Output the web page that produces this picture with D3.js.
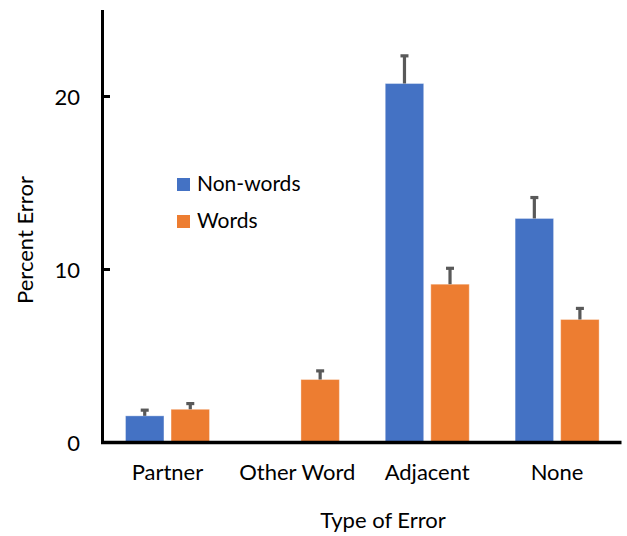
<!DOCTYPE html>
<html>
<head>
<meta charset="utf-8">
<script src="https://cdn.jsdelivr.net/npm/d3@7"></script>
<style>
  html, body { margin: 0; padding: 0; background: #fff; }
  svg { display: block; font-family: Lato, "Open Sans", sans-serif; }
</style>
</head>
<body>
<svg id="chart" width="627" height="536"></svg>
<script>
// Error types along the x axis
const categories = ["Partner", "Other Word", "Adjacent", "None"];
const seriesNames = ["Non-words", "Words"];

// Mean percent error per type (null = no bar)
const nonWordValues = [1.54, null, 20.75, 12.95];
const wordValues = [1.92, 3.64, 9.15, 7.11];

// Upper error bar lengths
const nonWordErrors = [0.33, null, 1.6, 1.21];
const wordErrors = [0.33, 0.5, 0.92, 0.64];

const yTicks = [0, 10, 20];
const colors = ["#4472C4", "#ED7D31"];
const fontSize = 22;

const svg = d3.select("#chart");

const y = d3.scaleLinear().domain([0, 25]).range([442.5, 10]);
const x = d3.scaleBand().domain(categories).range([102.5, 622]).paddingInner(0).paddingOuter(0);
const xSub = d3.scaleBand().domain(seriesNames).range([23, 107]).paddingInner(0.156);

const rows = [];
categories.forEach((c, i) => {
  rows.push({ cat: c, s: seriesNames[0], v: nonWordValues[i], e: nonWordErrors[i] });
  rows.push({ cat: c, s: seriesNames[1], v: wordValues[i], e: wordErrors[i] });
});
const bars = rows.filter(d => d.v != null);

// Bars
svg.append("g").selectAll("rect").data(bars).join("rect")
  .attr("x", d => x(d.cat) + xSub(d.s))
  .attr("y", d => y(d.v))
  .attr("width", xSub.bandwidth())
  .attr("height", d => y(0) - y(d.v))
  .attr("fill", d => colors[seriesNames.indexOf(d.s)])
  .attr("stroke", "rgba(255,255,255,0.35)")
  .attr("stroke-width", 1);

// Error bars (upper only)
const eb = svg.append("g").attr("stroke", "#595959").attr("stroke-width", 3.2).attr("fill", "none");
bars.forEach(d => {
  const cx = x(d.cat) + xSub(d.s) + xSub.bandwidth() / 2;
  eb.append("line").attr("x1", cx).attr("x2", cx).attr("y1", y(d.v)).attr("y2", y(d.v + d.e));
  eb.append("line").attr("x1", cx - 4).attr("x2", cx + 4).attr("y1", y(d.v + d.e)).attr("y2", y(d.v + d.e));
});

// Y axis
const yAxis = svg.append("g");
yAxis.append("line")
  .attr("x1", 102.5).attr("x2", 102.5).attr("y1", y(25)).attr("y2", y(0) + 1.5)
  .attr("stroke", "#000").attr("stroke-width", 3);
yAxis.selectAll(".tick").data(yTicks.filter(t => t > 0)).join("line")
  .attr("x1", 102.5).attr("x2", 110).attr("y1", d => y(d)).attr("y2", d => y(d))
  .attr("stroke", "#000").attr("stroke-width", 3);
yAxis.selectAll("text").data(yTicks).join("text")
  .attr("x", 80).attr("y", d => y(d))
  .attr("text-anchor", "end").attr("dominant-baseline", "central")
  .attr("font-size", fontSize).attr("fill", "#000")
  .text(d => d);

// X axis
svg.append("line")
  .attr("x1", 101).attr("x2", 621.5).attr("y1", y(0)).attr("y2", y(0))
  .attr("stroke", "#000").attr("stroke-width", 3.5);
svg.append("g").selectAll("text").data(categories).join("text")
  .attr("x", d => x(d) + x.bandwidth() / 2)
  .attr("y", 480)
  .attr("text-anchor", "middle")
  .attr("font-size", fontSize).attr("fill", "#000")
  .text(d => d);

// Axis titles
svg.append("text")
  .attr("x", 383).attr("y", 528)
  .attr("text-anchor", "middle").attr("font-size", fontSize).attr("fill", "#000")
  .text("Type of Error");
svg.append("text")
  .attr("transform", "translate(33,240) rotate(-90)")
  .attr("text-anchor", "middle").attr("font-size", fontSize).attr("fill", "#000")
  .text("Percent Error");

// Legend
const legend = svg.append("g");
seriesNames.forEach((s, i) => {
  const ly = 178 + i * 37;
  legend.append("rect").attr("x", 177).attr("y", ly).attr("width", 13).attr("height", 13).attr("fill", colors[i]);
  legend.append("text").attr("x", 197).attr("y", ly + 13)
    .attr("font-size", 21).attr("fill", "#000").text(s);
});
</script>
</body>
</html>
